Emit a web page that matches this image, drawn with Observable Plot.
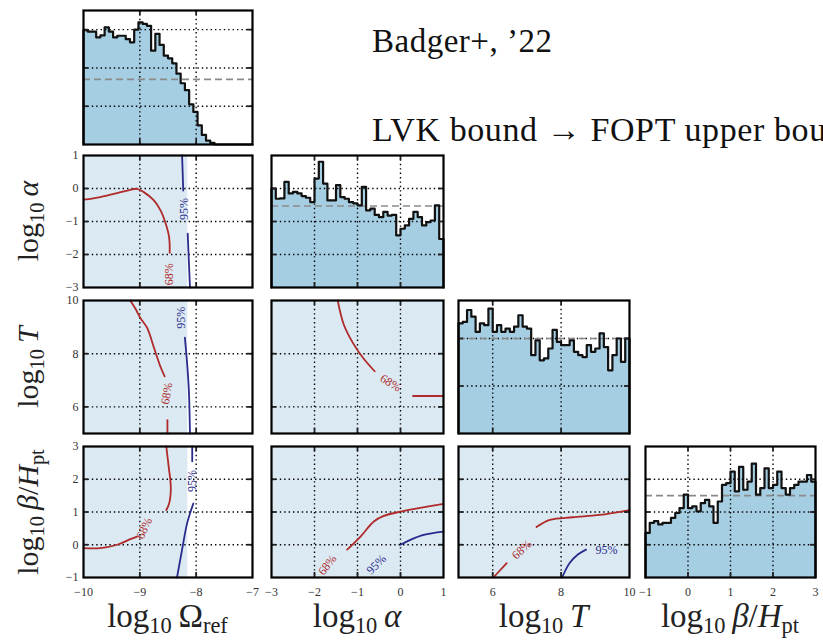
<!DOCTYPE html>
<html><head><meta charset="utf-8">
<script src="https://cdn.jsdelivr.net/npm/d3@7"></script>
<script src="https://cdn.jsdelivr.net/npm/@observablehq/plot@0.6"></script>
<style>
html,body{margin:0;padding:0;background:#fff;overflow:hidden;}
#root{position:relative;width:823px;height:640px;overflow:hidden;background:#fff;}
.lab{position:absolute;font-family:"Liberation Serif","Times New Roman","DejaVu Serif",serif;color:#222;white-space:nowrap;line-height:1;}
.lab sub{font-size:0.68em;vertical-align:-0.28em;line-height:0;}
.lab i{font-style:italic;}
svg text{font-family:"Liberation Serif","Times New Roman","DejaVu Serif",serif;}
</style></head><body><div id="root"></div>
<script>
// ---------- axis domains and ticks ----------
const omegaDomain = [-10, -7];
const alphaDomain = [-3, 1];
const tempDomain = [5, 10];
const betaDomain = [-1, 3];
const omegaTicks = [-10, -9, -8, -7];
const alphaTicks = [-3, -2, -1, 0, 1];
const tempTicks = [6, 8, 10];
const betaTicks = [-1, 0, 1, 2, 3];

// ---------- 1D marginal histograms (40 bins each) ----------
const histOmega = [2.99,2.95,2.95,2.80,2.85,3.06,2.95,2.80,2.84,2.84,2.75,2.67,3.00,3.19,3.15,3.10,2.45,2.89,2.60,2.32,
                   2.25,2.12,1.85,1.60,1.42,1.05,0.85,0.50,0.25,0.10,0.04,0,0,0,0,0,0,0,0,0];
const histAlpha = [3.00,2.69,2.70,3.20,2.85,2.90,2.85,2.77,2.72,2.59,3.30,3.81,3.15,2.64,2.64,3.10,2.74,2.69,2.59,2.55,
                   2.49,3.05,2.34,2.39,2.20,2.13,2.29,2.18,2.20,1.58,1.78,1.88,2.08,2.29,2.13,1.88,1.98,2.03,2.49,1.47];
const histTemp = [2.32,2.35,2.60,2.46,2.14,2.32,2.28,2.63,2.14,2.28,2.14,2.21,2.14,2.25,2.49,2.25,2.21,1.65,1.96,1.54,
                  1.58,1.79,2.18,1.93,1.86,1.86,1.96,1.72,1.65,1.61,1.86,1.72,1.79,2.11,1.82,1.33,1.65,2.00,1.51,2.00];
const histBeta = [1.36,1.67,1.72,1.62,1.67,1.67,1.82,1.97,2.12,2.53,2.12,2.17,2.02,2.27,2.37,2.17,1.67,2.32,2.83,2.88,
                  3.23,2.63,3.38,2.68,2.93,3.48,2.53,2.73,3.33,2.73,2.83,3.23,2.73,2.53,2.73,2.83,2.93,2.93,3.13,2.93];
const histOmegaTicks = [1, 2, 3];
const histAlphaTicks = [1, 2, 3];
const histTempTicks = [1, 2];
const histBetaTicks = [1, 2, 3];
const histOmegaTop = 3.5, histAlphaTop = 4, histTempTop = 2.8, histBetaTop = 4;
const priorOmega = 1.70, priorAlpha = 2.47, priorTemp = 2.0, priorBeta = 2.5;

// ---------- sample cloud extent (Omega panels) ----------
const cloudOmegaMax = -8.15;

// ---------- credible contours [x, y] ----------
const oa68 = [[-10,-0.34],[-9.7,-0.26],[-9.4,-0.14],[-9.17,-0.04],[-9.05,-0.01],[-8.93,-0.11],[-8.75,-0.36],[-8.63,-0.67],[-8.54,-1.07],[-8.48,-1.48],[-8.47,-1.95]];
const oa95a = [[-8.25,1],[-8.24,0.5],[-8.23,-0.06]];
const oa95b = [[-8.15,-1.37],[-8.13,-2.2],[-8.11,-3]];
const oaLabels = [{x:-8.48,y:-2.6,t:"68%",c:"r",r:-90},{x:-8.22,y:-0.62,t:"95%",c:"b",r:-90}];

const ot68a = [[-9.17,10],[-9.08,9.7],[-8.99,9.34],[-8.87,8.97],[-8.75,8.23],[-8.63,7.49],[-8.56,7.15]];
const ot68b = [[-8.51,5.5],[-8.51,5]];
const ot95 = [[-8.2,8.6],[-8.16,7.62],[-8.13,6.63],[-8.11,5]];
const otLabels = [{x:-8.52,y:6.5,t:"68%",c:"r",r:-80},{x:-8.27,y:9.35,t:"95%",c:"b",r:-90}];

const ob68a = [[-10,-0.1],[-9.7,-0.1],[-9.4,0],[-9.17,0.17],[-9.05,0.25]];
const ob68b = [[-8.53,1.06],[-8.48,1.26],[-8.45,1.67],[-8.46,2.0],[-8.48,2.27],[-8.53,3]];
const ob95a = [[-8.34,-1],[-8.25,-0.15],[-8.16,0.66],[-8.05,1.26]];
const ob95b = [[-8.07,2.55],[-8.07,3]];
const obLabels = [{x:-8.92,y:0.5,t:"68%",c:"r",r:-65},{x:-8.07,y:1.95,t:"95%",c:"b",r:-90}];

const at68a = [[-1.46,10],[-1.32,9.1],[-1.09,8.36],[-0.85,7.8],[-0.6,7.34]];
const at68b = [[0.29,6.41],[1,6.41]];
const atLabels = [{x:-0.23,y:6.9,t:"68%",c:"r",r:32}];

const ab68 = [[-1.24,-0.15],[-0.93,0.25],[-0.62,0.71],[-0.39,0.88],[0,1.01],[0.39,1.11],[1,1.25]];
const ab95 = [[0,0],[0.23,0.15],[0.54,0.3],[1,0.4]];
const abLabels = [{x:-1.7,y:-0.62,t:"68%",c:"r",r:-52},{x:-0.56,y:-0.6,t:"95%",c:"b",r:-45}];

const tb68a = [[6.02,-1],[6.41,-0.56]];
const tb68b = [[7.28,0.54],[7.67,0.76],[8.34,0.84],[9.12,0.91],[10,1.06]];
const tb95 = [[8.03,-1],[8.25,-0.56],[8.49,-0.3],[8.73,-0.15]];
const tbLabels = [{x:6.85,y:-0.15,t:"68%",c:"r",r:-42},{x:9.33,y:-0.15,t:"95%",c:"b",r:0}];

// ---------- style ----------
const SERIF = "'Liberation Serif','Times New Roman','DejaVu Serif',serif";
const RED = "#b02a2a", BLUE = "#2a2a8c", HISTFILL = "#a6cee3", CLOUD = "#dbe9f3";
const colLeft = [83, 271, 458, 645], colW = [169, 172, 171, 170];
const rowTop = [10, 155, 300, 446], rowH = [134, 132, 133, 131];
const mL = 40, mR = 8, mT = 6, mB = 28;
const root = document.getElementById("root");
const fmt = d => d < 0 ? "\u2212" + Math.abs(d) : String(d);

function stepPoints(domain, values) {
  const n = values.length, w = (domain[1] - domain[0]) / n;
  const pts = [{x: domain[0], y: 0}];
  values.forEach((v, i) => pts.push({x: domain[0] + i * w, y: v}));
  pts.push({x: domain[1], y: values[n - 1]});
  pts.push({x: domain[1], y: 0});
  return pts;
}

function panel(o) {
  const w = colW[o.col], h = rowH[o.row];
  const inside = (ticks, dom) => ticks.filter(t => t > Math.min(...dom) && t < Math.max(...dom));
  const xIn = inside(o.xTicks, o.xDomain), yIn = inside(o.yTicks, o.yDomain);
  const marks = [...o.content];
  marks.push(Plot.ruleX(xIn, {stroke: "#000", strokeWidth: 1.4, strokeDasharray: "1.4,3"}));
  marks.push(Plot.ruleY(yIn, {stroke: "#000", strokeWidth: 1.4, strokeDasharray: "1.4,3"}));
  if (o.after) marks.push(...o.after);
  marks.push(Plot.tickX(xIn, {insetTop: h - 5, strokeWidth: 1.8}));
  marks.push(Plot.tickX(xIn, {insetBottom: h - 5, strokeWidth: 1.8}));
  marks.push(Plot.tickY(yIn, {insetLeft: w - 5, strokeWidth: 1.8}));
  marks.push(Plot.tickY(yIn, {insetRight: w - 5, strokeWidth: 1.8}));
  marks.push(Plot.frame({stroke: "#000", strokeWidth: 2.2}));
  if (o.showX) marks.push(Plot.axisX(o.xTicks, {tickSize: 0, tickPadding: 10, tickFormat: fmt, fontSize: 12, fontFamily: SERIF, fill: "#333", label: null}));
  if (o.showY) marks.push(Plot.axisY(o.yTicks, {tickSize: 0, tickPadding: 5, tickFormat: fmt, fontSize: 12, fontFamily: SERIF, fill: "#333", label: null}));
  const svg = Plot.plot({
    width: w + mL + mR, height: h + mT + mB,
    marginLeft: mL, marginRight: mR, marginTop: mT, marginBottom: mB,
    x: {domain: o.xDomain, axis: null},
    y: {domain: o.yDomain, axis: null},
    style: {background: "transparent", overflow: "visible", fontFamily: SERIF, color: "#222", maxWidth: "none"},
    marks
  });
  svg.style.position = "absolute";
  svg.style.left = (colLeft[o.col] - mL) + "px";
  svg.style.top = (rowTop[o.row] - mT) + "px";
  root.appendChild(svg);
}

function histPanel(col, row, dom, ticks, values, top, yTicks, prior, showX) {
  const pts = stepPoints(dom, values);
  panel({col, row, xDomain: dom, yDomain: [0, top], xTicks: ticks, yTicks, showX, showY: false,
    content: [Plot.areaY(pts, {x: "x", y: "y", curve: "step-after", fill: HISTFILL})],
    after: [
      Plot.ruleY([prior], {stroke: "#8a8a8a", strokeWidth: 1.7, strokeDasharray: "7,4"}),
      Plot.line(pts, {x: "x", y: "y", curve: "step-after", stroke: "#111", strokeWidth: 2.2})
    ]});
}

function contourMarks(lines, labels) {
  const m = [];
  lines.forEach(([pts, c]) => m.push(Plot.line(pts, {x: d => d[0], y: d => d[1], stroke: c === "r" ? RED : BLUE, strokeWidth: 1.8, curve: "catmull-rom"})));
  labels.forEach(l => m.push(Plot.text([l], {x: "x", y: "y", text: "t", rotate: l.r, fill: l.c === "r" ? RED : BLUE, fontSize: 12, fontFamily: SERIF})));
  return m;
}

function cloud(xd, yd) {
  return Plot.rect([{x1: xd[0], x2: xd[1], y1: yd[0], y2: yd[1]}], {x1: "x1", x2: "x2", y1: "y1", y2: "y2", fill: CLOUD});
}

// Row 0
histPanel(0, 0, omegaDomain, omegaTicks, histOmega, histOmegaTop, histOmegaTicks, priorOmega, false);
// Row 1
panel({col: 0, row: 1, xDomain: omegaDomain, yDomain: alphaDomain, xTicks: omegaTicks, yTicks: alphaTicks, showY: true,
  content: [cloud([omegaDomain[0], cloudOmegaMax], alphaDomain)],
  after: contourMarks([[oa68, "r"], [oa95a, "b"], [oa95b, "b"]], oaLabels)});
histPanel(1, 1, alphaDomain, alphaTicks, histAlpha, histAlphaTop, histAlphaTicks, priorAlpha, false);
// Row 2
panel({col: 0, row: 2, xDomain: omegaDomain, yDomain: tempDomain, xTicks: omegaTicks, yTicks: tempTicks, showY: true,
  content: [cloud([omegaDomain[0], cloudOmegaMax], tempDomain)],
  after: contourMarks([[ot68a, "r"], [ot68b, "r"], [ot95, "b"]], otLabels)});
panel({col: 1, row: 2, xDomain: alphaDomain, yDomain: tempDomain, xTicks: alphaTicks, yTicks: tempTicks,
  content: [cloud(alphaDomain, tempDomain)],
  after: contourMarks([[at68a, "r"], [at68b, "r"]], atLabels)});
histPanel(2, 2, tempDomain, tempTicks, histTemp, histTempTop, histTempTicks, priorTemp, false);
// Row 3
panel({col: 0, row: 3, xDomain: omegaDomain, yDomain: betaDomain, xTicks: omegaTicks, yTicks: betaTicks, showY: true, showX: true,
  content: [cloud([omegaDomain[0], cloudOmegaMax], betaDomain)],
  after: contourMarks([[ob68a, "r"], [ob68b, "r"], [ob95a, "b"], [ob95b, "b"]], obLabels)});
panel({col: 1, row: 3, xDomain: alphaDomain, yDomain: betaDomain, xTicks: alphaTicks, yTicks: betaTicks, showX: true,
  content: [cloud(alphaDomain, betaDomain)],
  after: contourMarks([[ab68, "r"], [ab95, "b"]], abLabels)});
panel({col: 2, row: 3, xDomain: tempDomain, yDomain: betaDomain, xTicks: tempTicks, yTicks: betaTicks, showX: true,
  content: [cloud(tempDomain, betaDomain)],
  after: contourMarks([[tb68a, "r"], [tb68b, "r"], [tb95, "b"]], tbLabels)});
histPanel(3, 3, betaDomain, betaTicks, histBeta, histBetaTop, histBetaTicks, priorBeta, true);

// ---------- text labels ----------
function addLabel(html, css) {
  const d = document.createElement("div");
  d.className = "lab";
  d.innerHTML = html;
  Object.assign(d.style, css);
  root.appendChild(d);
  return d;
}
const xLabelHtml = [
  "log<sub>10</sub>\u2009\u03A9<sub>ref</sub>",
  "log<sub>10</sub>\u2009<i>\u03B1</i>",
  "log<sub>10</sub>\u2009<i>T</i>",
  "log<sub>10</sub>\u2009<i>\u03B2</i>/<i>H</i><sub>pt</sub>"
];
xLabelHtml.forEach((h, i) => {
  const cx = colLeft[i] + colW[i] / 2;
  addLabel(h, {left: cx + "px", top: "600px", fontSize: "33px", transform: "translateX(-50%)"});
});
const yLabelHtml = [null, xLabelHtml[1], xLabelHtml[2], xLabelHtml[3]];
yLabelHtml.forEach((h, r) => {
  if (!h) return;
  const cy = rowTop[r] + rowH[r] / 2;
  addLabel(h, {left: "28px", top: cy + "px", fontSize: "30px", transform: "translate(-50%,-50%) rotate(-90deg)"});
});
addLabel("Badger+, \u201922", {left: "372px", top: "25px", fontSize: "33px", letterSpacing: "0.5px", color: "#111"});
addLabel("LVK bound \u2192 FOPT upper bound", {left: "372px", top: "113px", fontSize: "34px", letterSpacing: "0.6px", color: "#111"});
</script></body></html>
